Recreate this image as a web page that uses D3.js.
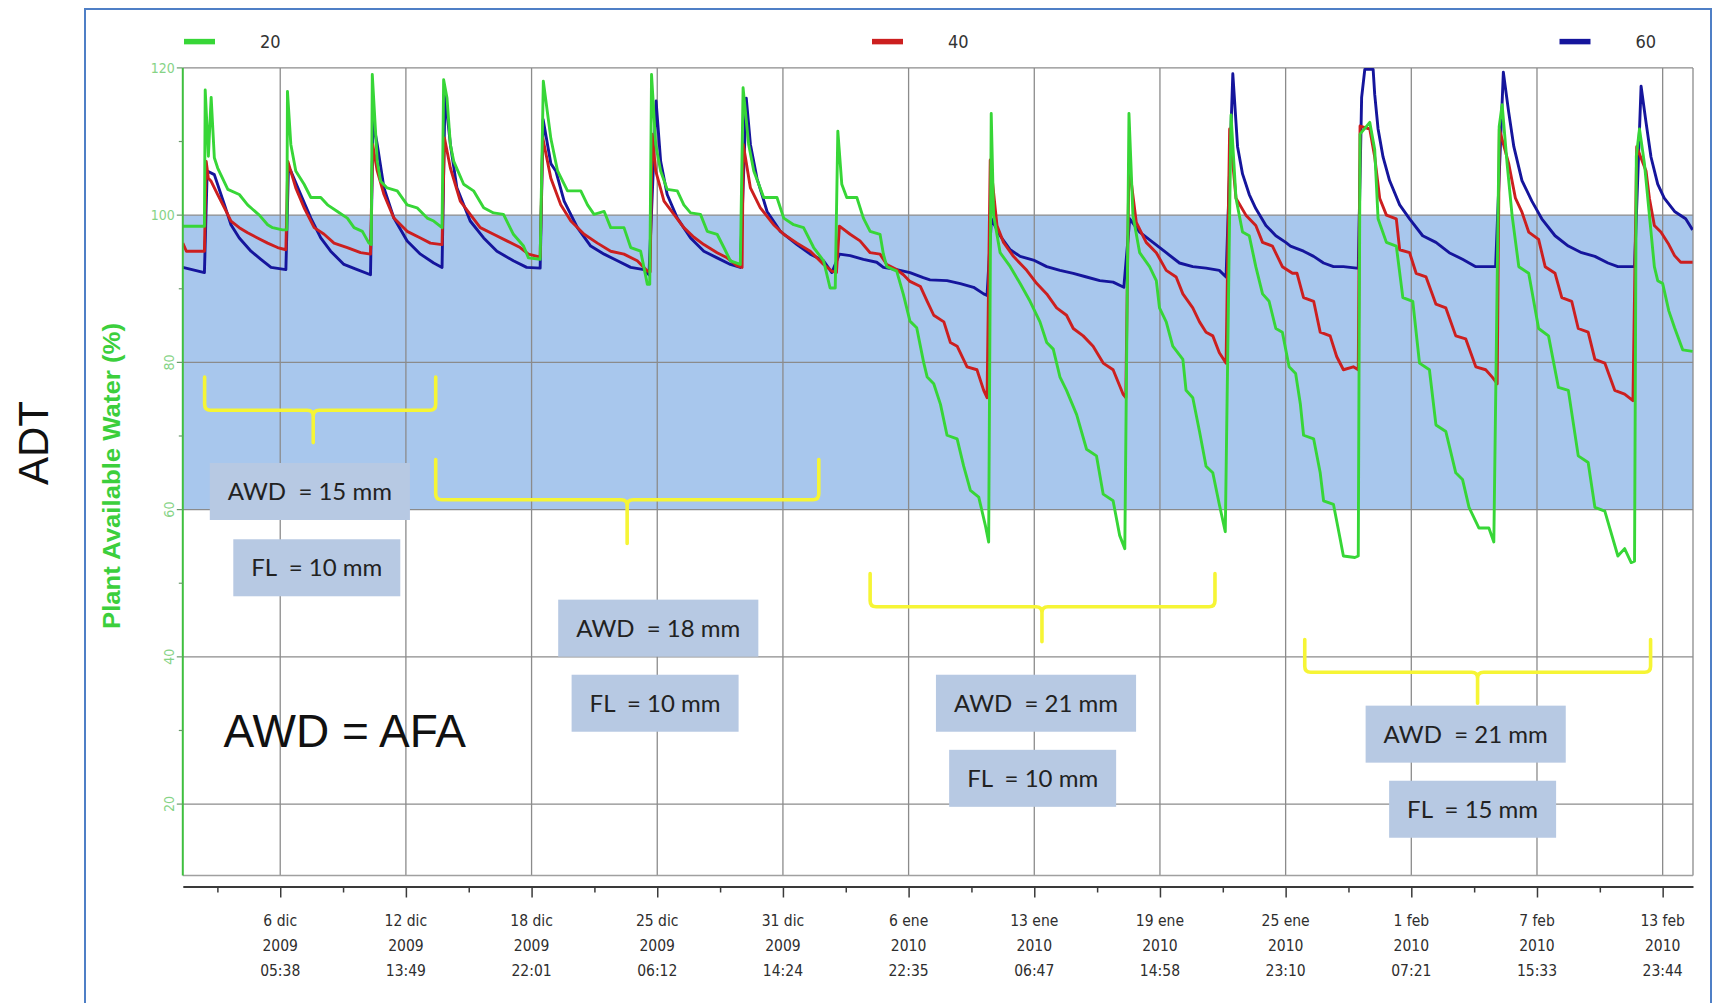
<!DOCTYPE html>
<html>
<head>
<meta charset="utf-8">
<script src="https://cdn.jsdelivr.net/npm/d3@7"></script>
<style>
  html, body { margin: 0; padding: 0; background: #fff; }
  svg { display: block; }
</style>
</head>
<body>
<svg id="chart" width="1716" height="1003"></svg>
<script>
// x values are days since 1 Dec 2009 00:00 (UTC); y = plant available water (%)
const T0 = Date.UTC(2009, 11, 1);

const seriesNames = ["20", "40", "60"];
const seriesColors = ["#37d637", "#cc1f1f", "#15159c"];

// sensor at 20 cm
const paw20 = [
  [0.32,98.5],[1.41,98.5],[1.45,117],[1.61,108],[1.75,116],[1.91,107.8],[2.08,106.4],[2.59,103.5],[3.17,102.8],[3.59,101.4],[3.84,100.8],[4.18,100],[4.6,98.7],[4.85,98.3],[5.35,98],[5.57,98],
  [5.6,116.8],[5.77,109.6],[6.02,106],[6.44,104.2],[6.78,102.4],[7.28,102.4],[7.62,101.4],[8.12,100.5],[8.62,99.6],[8.96,98.3],[9.38,97.8],[9.71,96.2],[9.83,96],
  [9.88,119.1],[10.13,107.3],[10.3,104.6],[10.63,103.7],[11.14,103.3],[11.64,101.4],[12.14,101],[12.65,99.6],[12.98,99.2],[13.4,98.3],
  [13.48,118.4],[13.65,115.9],[13.82,109.6],[13.99,107.3],[14.49,104.2],[14.99,103.3],[15.5,101],[16,100.3],[16.5,100.1],[17,97.4],[17.51,95.8],[17.76,94.2],[18.35,94],
  [18.51,118.2],[18.89,110.4],[19.23,106],[19.73,103.3],[20.4,103.3],[20.74,101.4],[21.07,100.1],[21.58,100.5],[21.91,98.3],[22.58,98.3],[22.92,95.6],[23.42,95.1],[23.76,90.6],[23.88,90.6],
  [23.97,119.1],[24.18,109.6],[24.43,106],[24.76,103.5],[25.27,103.3],[25.6,101.4],[25.94,100.3],[26.44,100.1],[26.78,97.8],[27.28,97.4],[27.62,95.6],[27.95,93.8],[28.45,93.3],
  [28.59,117.3],[28.87,109.6],[29.13,106],[29.63,102.4],[30.3,102.4],[30.64,99.6],[31.14,98.7],[31.64,98.3],[32.15,95.6],[32.65,93.8],[32.98,90.1],[33.24,90.1],
  [33.37,111.4],[33.57,104.2],[33.82,102.4],[34.33,102.4],[34.66,99.6],[35,97.8],[35.5,97.4],[35.67,94.7],[35.84,93],[36.34,92.4],[36.68,89.2],[37.01,85.6],[37.35,84.7],[37.7,80],[37.88,78],[38.21,77.1],[38.55,74.3],[38.88,70.1],[39.39,69.6],[39.72,65.9],[40.06,62.6],[40.48,61.7],[40.81,57.9],[40.98,55.6],
  [41.11,113.8],[41.23,100],[41.56,94.9],[42.07,93],[42.57,90.7],[43.07,88.3],[43.57,85.5],[43.91,82.7],[44.24,81.8],[44.58,78],[44.91,76.2],[45.42,72.9],[45.92,68.2],[46.42,67.3],[46.76,62.1],[47.26,61.2],[47.59,56.5],[47.85,54.7],
  [48.06,113.8],[48.26,100],[48.6,94.9],[49.1,93],[49.44,91.1],[49.6,87.4],[49.94,85.5],[50.27,82.2],[50.78,80.4],[50.94,76.2],[51.28,75.2],[51.62,70.6],[51.95,65.9],[52.29,65],[52.62,60.7],[52.92,57],
  [53.21,113.6],[53.46,102.3],[53.79,97.7],[54.13,97.2],[54.46,93],[54.8,89.3],[55.13,88.3],[55.47,84.6],[55.8,84.1],[56.14,79.4],[56.47,78.5],[56.71,74.3],[56.87,70.1],[57.38,69.6],[57.71,65],[57.88,61.2],[58.38,60.7],[58.71,56.1],[58.88,53.7],[59.46,53.5],[59.63,53.7],
  [59.72,111],[60.21,112.6],[60.46,108.9],[60.63,99.5],[61.05,96.3],[61.55,95.8],[61.88,88.8],[62.38,88.3],[62.72,79.9],[63.22,79],[63.55,71.5],[64.05,70.6],[64.55,65],[64.89,64.1],[65.22,60.3],[65.72,57.5],[66.22,57.5],[66.47,55.6],
  [66.74,112],[66.89,115],[67.14,107],[67.39,100],[67.73,93],[68.23,92.1],[68.73,84.6],[69.23,83.6],[69.73,76.6],[70.23,76.2],[70.73,67.3],[71.23,66.4],[71.57,60.3],[72.07,59.8],[72.73,53.7],[73.07,54.7],[73.4,52.8],[73.57,53],
  [73.66,108],[73.82,111.7],[74.07,107],[74.32,100],[74.57,93],[74.74,91.1],[74.99,90.7],[75.3,87],[75.59,84.7],[76,81.7],[76.5,81.5]
];

// sensor at 40 cm
const paw40 = [
  [0.32,96.2],[0.5,95.1],[1.41,95.1],[1.5,107.3],[1.61,105],[1.75,104.6],[2.08,102.8],[2.42,101],[2.75,99.2],[3.17,98.3],[3.59,97.6],[4.09,96.9],[4.6,96.2],[5.1,95.6],[5.52,95.3],
  [5.62,107.3],[6.02,103.7],[6.44,101],[6.95,98.3],[7.45,97.4],[7.95,96.2],[8.62,95.6],[9.29,94.9],[9.79,94.7],
  [9.9,109.6],[10.13,106],[10.47,102.8],[10.97,99.6],[11.64,97.8],[12.31,96.9],[12.81,96.2],[13.4,96],
  [13.52,110.5],[13.82,106.4],[14.32,101.9],[14.82,100.1],[15.33,98.3],[16,97.4],[16.67,96.5],[17.34,95.6],[17.76,94.7],[18.35,94.3],
  [18.48,110.5],[18.89,105],[19.39,101.4],[19.9,99.2],[20.57,97.4],[21.24,96.2],[21.91,95.1],[22.58,94.7],[23.25,93.8],[23.76,92.4],[23.9,92.3],
  [24.0,111],[24.18,106],[24.6,101.9],[25.1,100.1],[25.6,98.3],[26.11,97],[26.61,96],[27.28,94.9],[27.78,94.2],[28.29,93.1],[28.54,92.9],
  [28.6,109.6],[28.96,103.7],[29.46,101],[30.13,98.7],[30.64,97.4],[31.31,96.2],[31.98,95.1],[32.65,93.3],[33.07,92.4],[33.3,92.2],
  [33.45,98.5],[33.99,97.4],[34.49,96.5],[35,94.9],[35.5,94.7],[35.84,93.3],[36.34,92.6],[36.68,91.9],[37.01,91],[37.54,90.3],[37.88,88.3],[38.21,86.4],[38.72,85.5],[39.05,82.7],[39.39,82.2],[39.89,79.4],[40.39,79],[40.73,76.2],[40.9,75.2],
  [41.06,107.5],[41.4,98.6],[41.73,96.3],[42.23,94.4],[42.9,92.5],[43.41,90.7],[43.91,89.3],[44.41,87.4],[44.91,86.4],[45.25,84.6],[45.75,83.6],[46.25,82.2],[46.76,79.9],[47.26,79],[47.76,75.7],[47.9,75.2],
  [48.06,107],[48.43,99],[48.93,96.3],[49.44,94.9],[49.94,92.5],[50.44,91.6],[50.78,89.3],[51.28,87.4],[51.62,85.5],[51.95,84.1],[52.29,83.6],[52.62,81.3],[52.96,79.9],
  [53.14,111.7],[53.46,102.3],[53.96,100],[54.46,98.6],[54.8,96.3],[55.3,95.8],[55.8,93],[56.31,92.1],[56.54,92.1],[56.87,88.8],[57.38,88.3],[57.71,84.1],[58.21,83.6],[58.54,80.8],[58.88,79],[59.38,79.4],[59.63,79],
  [59.72,112.1],[60.21,111.7],[60.46,107.9],[60.71,102.3],[61.05,100],[61.55,99.5],[61.72,95.3],[62.22,94.9],[62.55,92.1],[63.05,91.6],[63.55,87.9],[64.05,87.4],[64.55,83.6],[65.05,83.2],[65.56,79.4],[66.06,79],[66.39,78],[66.64,77.1],
  [66.75,111.7],[67.22,107],[67.56,102.3],[67.89,100.4],[68.23,97.7],[68.73,96.7],[69.06,93],[69.56,92.1],[69.9,88.8],[70.4,88.3],[70.73,84.6],[71.23,84.1],[71.57,80.4],[72.07,79.9],[72.57,76.2],[73.07,75.7],[73.49,74.8],
  [73.68,109.3],[74.15,106],[74.32,102.3],[74.57,98.6],[74.9,97.7],[75.3,96],[75.59,94.5],[75.9,93.6],[76.5,93.6]
];

// sensor at 60 cm
const paw60 = [
  [0.32,92.9],[1.41,92.2],[1.55,106],[1.91,105.5],[2.42,101.4],[2.75,98.7],[3.17,96.9],[3.76,95.1],[4.26,94],[4.77,92.9],[5.52,92.6],
  [5.65,106.4],[5.77,106],[6.27,102.8],[6.78,99.6],[7.28,96.9],[7.78,95.1],[8.45,93.3],[9.12,92.6],[9.79,91.9],
  [9.92,112.8],[10.13,109.6],[10.47,103.7],[10.97,99.6],[11.64,96.5],[12.31,94.7],[12.98,93.5],[13.4,92.9],
  [13.55,116.4],[13.82,109.6],[14.15,103.7],[14.82,99.2],[15.5,96.9],[16.17,95.1],[17,93.8],[17.67,92.9],[18.35,92.8],
  [18.5,113],[18.89,107],[19.14,106],[19.56,101.9],[20.23,98.3],[20.9,95.8],[21.58,94.7],[22.25,93.8],[22.92,92.9],[23.59,92.6],[23.84,91.9],
  [24.2,115.5],[24.43,107.3],[24.76,102.8],[25.27,99.6],[25.94,96.9],[26.61,95.1],[27.28,94.2],[27.95,93.3],[28.45,92.9],
  [28.75,115.9],[28.96,109.6],[29.29,105],[29.8,100.5],[30.47,97.8],[31.31,96],[31.98,94.7],[32.65,93.8],[33.07,92.2],
  [33.45,94.7],[33.99,94.5],[34.66,94],[35.33,93.6],[35.67,92.9],[36.34,92.6],[37.01,92.2],[37.68,91.5],[38.02,91.2],[38.88,91.1],[39.55,90.7],[40.22,90.2],[40.73,89.3],[40.9,89.1],
  [41.12,99.5],[41.56,97.2],[42.07,95.3],[42.57,94.4],[43.24,93.9],[43.91,93],[44.58,92.5],[45.25,92.1],[45.92,91.6],[46.59,91.1],[47.26,90.9],[47.8,90.2],
  [48.1,99.5],[48.6,97.7],[49.27,96.3],[49.94,94.9],[50.61,93.5],[51.28,93],[51.95,92.8],[52.62,92.5],[52.96,91.6],
  [53.3,119.2],[53.54,109.3],[53.79,105.6],[54.13,102.8],[54.46,100.9],[54.97,98.6],[55.47,97.2],[55.97,96.3],[56.21,95.8],[56.87,95.1],[57.38,94.4],[57.88,93.5],[58.38,93],[58.88,93],[59.55,92.8],[59.63,92.8],
  [59.8,116],[59.96,119.8],[60.38,119.8],[60.46,116.4],[60.63,111.7],[60.88,107.9],[61.21,104.7],[61.72,101.4],[62.22,99.5],[62.88,97.2],[63.55,96.3],[64.22,94.9],[64.89,94],[65.56,93],[66.56,93],
  [66.95,119.4],[67.22,114],[67.48,109.3],[67.89,104.7],[68.39,101.9],[68.89,99.5],[69.56,97.2],[70.23,95.8],[70.9,94.9],[71.57,94.4],[72.23,93.5],[72.73,93],[73.57,93],
  [73.9,117.5],[74.15,112.6],[74.4,107.9],[74.74,104.2],[75.07,102.3],[75.59,100.5],[76.15,99.5],[76.5,98]
];

// x axis: labelled ticks (odd times come from the logger software)
const tickDates = ["2009-12-06T05:38Z","2009-12-12T13:49Z","2009-12-18T22:01Z","2009-12-25T06:12Z","2009-12-31T14:24Z","2010-01-06T22:35Z",
                   "2010-01-13T06:47Z","2010-01-19T14:58Z","2010-01-25T23:10Z","2010-02-01T07:21Z","2010-02-07T15:33Z","2010-02-13T23:44Z"];
const tickDay  = ["6 dic","12 dic","18 dic","25 dic","31 dic","6 ene","13 ene","19 ene","25 ene","1 feb","7 feb","13 feb"];
const tickYear = ["2009","2009","2009","2009","2009","2010","2010","2010","2010","2010","2010","2010"];
const tickTime = ["05:38","13:49","22:01","06:12","14:24","22:35","06:47","14:58","23:10","07:21","15:33","23:44"];

const yTicks = [20, 40, 60, 80, 100, 120];
const yMinorTicks = [30, 50, 70, 90, 110];
const targetBand = [60, 100];   // shaded comfort band

// irrigation periods: braces (day range, tip day, values of top/bar/tip) and their notes
const braces = [
  { from: 1.42,  to: 13.08, tip: 6.9,   top: 78,   bar: 73.5,  end: 69.1 },
  { from: 13.08, to: 32.41, tip: 22.74, top: 66.8, bar: 61.35, end: 55.4 },
  { from: 35.0,  to: 52.4,  tip: 43.67, top: 51.3, bar: 46.8,  end: 42.05 },
  { from: 56.93, to: 74.38, tip: 65.65, top: 42.35, bar: 37.9, end: 33.7 }
];
const notes = [
  { text: "AWD  = 15 mm", day: 6.73,  value: 62.46 },
  { text: "FL  = 10 mm",  day: 7.08,  value: 52.1 },
  { text: "AWD  = 18 mm", day: 24.31, value: 43.9 },
  { text: "FL  = 10 mm",  day: 24.15, value: 33.7 },
  { text: "AWD  = 21 mm", day: 43.37, value: 33.7 },
  { text: "FL  = 10 mm",  day: 43.2,  value: 23.5 },
  { text: "AWD  = 21 mm", day: 65.05, value: 29.5 },
  { text: "FL  = 15 mm",  day: 65.4,  value: 19.3 }
];

const toDate = d => new Date(T0 + d * 864e5);

const svg = d3.select("#chart");
const plot = { left: 182.8, right: 1693, top: 67.9, bottom: 875.5 };

// outer blue frame of the slide
svg.append("rect")
    .attr("x", 85).attr("y", 9).attr("width", 1626).attr("height", 1010)
    .attr("fill", "none").attr("stroke", "#4f7fc6").attr("stroke-width", 2);

const x = d3.scaleUtc()
    .domain([toDate(0.319), toDate(76.52)])
    .range([plot.left, plot.right]);
const y = d3.scaleLinear()
    .domain([10.3, 120])
    .range([plot.bottom, plot.top]);

// blue band 60..100
svg.append("rect")
    .attr("x", plot.left).attr("width", plot.right - plot.left)
    .attr("y", y(targetBand[1])).attr("height", y(targetBand[0]) - y(targetBand[1]))
    .attr("fill", "#a8c7ed");

// grid
const grid = svg.append("g").attr("stroke", "#8b8b8b").attr("stroke-width", 1.3);
grid.selectAll(".h").data(yTicks).join("line")
    .attr("x1", plot.left).attr("x2", plot.right)
    .attr("y1", d => y(d)).attr("y2", d => y(d));
const tickDateObjs = tickDates.map(s => new Date(s));
grid.selectAll(".v").data(tickDateObjs).join("line")
    .attr("x1", d => x(d)).attr("x2", d => x(d))
    .attr("y1", plot.top).attr("y2", plot.bottom);
// right and bottom edge of the plot area
svg.append("line").attr("x1", plot.right).attr("x2", plot.right)
    .attr("y1", plot.top).attr("y2", plot.bottom)
    .attr("stroke", "#8b8b8b").attr("stroke-width", 1.3);
svg.append("line").attr("x1", plot.left).attr("x2", plot.right)
    .attr("y1", plot.bottom).attr("y2", plot.bottom)
    .attr("stroke", "#a0a0a0").attr("stroke-width", 1.3);

// series lines, clipped to the plot box
svg.append("clipPath").attr("id", "clip").append("rect")
    .attr("x", plot.left).attr("y", plot.top - 1)
    .attr("width", plot.right - plot.left).attr("height", plot.bottom - plot.top + 1);

const line = d3.line()
    .x(d => x(toDate(d[0])))
    .y(d => y(d[1]));

const series = [paw20, paw40, paw60];
const drawOrder = [2, 1, 0];   // blue under red under green
const linesG = svg.append("g").attr("clip-path", "url(#clip)");
drawOrder.forEach(i => {
  linesG.append("path")
      .datum(series[i])
      .attr("d", line)
      .attr("fill", "none")
      .attr("stroke", seriesColors[i])
      .attr("stroke-width", 2.9)
      .attr("stroke-linejoin", "round");
});

// y axis (green)
svg.append("line")
    .attr("x1", plot.left).attr("x2", plot.left)
    .attr("y1", plot.top).attr("y2", plot.bottom)
    .attr("stroke", "#3fbf3f").attr("stroke-width", 2);
const yAxisG = svg.append("g").attr("class", "y-axis");
yAxisG.selectAll(".maj").data(yTicks).join("line")
    .attr("x1", plot.left - 6).attr("x2", plot.left)
    .attr("y1", d => y(d)).attr("y2", d => y(d))
    .attr("stroke", "#6a9a6a").attr("stroke-width", 1.2);
yAxisG.selectAll(".min").data(yMinorTicks).join("line")
    .attr("x1", plot.left - 4).attr("x2", plot.left)
    .attr("y1", d => y(d)).attr("y2", d => y(d))
    .attr("stroke", "#6a9a6a").attr("stroke-width", 1.2);
// the source shows 100/120 upright and the lower labels turned on their side
yAxisG.selectAll("text").data(yTicks).join("text")
    .attr("transform", d => d >= 100
        ? `translate(${plot.left - 8}, ${y(d)})`
        : `translate(${plot.left - 14}, ${y(d)}) rotate(-90)`)
    .attr("dy", d => d >= 100 ? "0.35em" : "0.35em")
    .attr("text-anchor", d => d >= 100 ? "end" : "middle")
    .attr("font-family", "DejaVu Sans Condensed, DejaVu Sans, sans-serif")
    .attr("font-size", 14)
    .attr("fill", "#86d386")
    .text(d => d);

svg.append("text")
    .attr("transform", "translate(120, 476) rotate(-90)")
    .attr("text-anchor", "middle")
    .attr("font-family", "Liberation Sans, Arial, sans-serif")
    .attr("font-weight", "bold")
    .attr("font-size", 24)
    .attr("textLength", 306)
    .attr("lengthAdjust", "spacingAndGlyphs")
    .attr("fill", "#3ccf3c")
    .text("Plant Available Water (%)");

// x axis: major ticks, minor ticks half-way between
const axisY = 886.5;
const step = tickDateObjs[1] - tickDateObjs[0];
const minorDates = [new Date(+tickDateObjs[0] - step / 2)]
    .concat(d3.pairs(tickDateObjs).map(([a, b]) => new Date((+a + +b) / 2)));

const xAxis = svg.append("g").attr("transform", `translate(0,${axisY})`)
    .call(d3.axisBottom(x).tickValues(tickDateObjs).tickSize(11).tickSizeOuter(0).tickFormat(""));
xAxis.select(".domain").attr("stroke", "#3a3a3a").attr("stroke-width", 2.2);
xAxis.selectAll(".tick line").attr("stroke", "#3a3a3a").attr("stroke-width", 1.5);

const xMinor = svg.append("g").attr("transform", `translate(0,${axisY})`)
    .call(d3.axisBottom(x).tickValues(minorDates).tickSize(6).tickSizeOuter(0).tickFormat(""));
xMinor.select(".domain").remove();
xMinor.selectAll(".tick line").attr("stroke", "#3a3a3a").attr("stroke-width", 1.5);

const xLabels = svg.append("g")
    .attr("font-family", "DejaVu Sans Condensed, DejaVu Sans, sans-serif")
    .attr("font-size", 15.5)
    .attr("fill", "#2e2e2e")
    .attr("text-anchor", "middle");
tickDateObjs.forEach((d, i) => {
  const t = xLabels.append("text").attr("x", x(d)).attr("y", 926);
  t.append("tspan").attr("x", x(d)).attr("dy", 0).text(tickDay[i]);
  t.append("tspan").attr("x", x(d)).attr("dy", 24.8).text(tickYear[i]);
  t.append("tspan").attr("x", x(d)).attr("dy", 25).text(tickTime[i]);
});

// legend across the top
const legendX = [184, 872, 1559.5];
const legend = svg.append("g");
seriesNames.forEach((name, i) => {
  legend.append("line")
      .attr("x1", legendX[i]).attr("x2", legendX[i] + 31)
      .attr("y1", 41.6).attr("y2", 41.6)
      .attr("stroke", seriesColors[i]).attr("stroke-width", 5.5);
  legend.append("text")
      .attr("x", legendX[i] + 76).attr("y", 41.6).attr("dy", "0.36em")
      .attr("font-family", "DejaVu Sans Condensed, DejaVu Sans, sans-serif")
      .attr("font-size", 18).attr("fill", "#333")
      .text(name);
});

// yellow braces marking each irrigation regime
const braceG = svg.append("g")
    .attr("fill", "none").attr("stroke", "#f6f535")
    .attr("stroke-width", 3.6).attr("stroke-linecap", "round");
braces.forEach(b => {
  const x1 = x(toDate(b.from)), x2 = x(toDate(b.to)), xc = x(toDate(b.tip));
  const yt = y(b.top), yb = y(b.bar), ye = y(b.end);
  const r = 6;
  const p = d3.path();
  p.moveTo(x1, yt); p.lineTo(x1, yb - r); p.quadraticCurveTo(x1, yb, x1 + r, yb);
  p.lineTo(xc - r, yb); p.quadraticCurveTo(xc, yb, xc, yb + r); p.lineTo(xc, ye);
  p.moveTo(xc, yb + r); p.quadraticCurveTo(xc, yb, xc + r, yb);
  p.lineTo(x2 - r, yb); p.quadraticCurveTo(x2, yb, x2, yb - r); p.lineTo(x2, yt);
  braceG.append("path").attr("d", p.toString());
});

// AWD / FL note boxes
const noteG = svg.append("g");
notes.forEach(n => {
  const cx = x(toDate(n.day)), cy = y(n.value);
  const g = noteG.append("g");
  const rect = g.append("rect").attr("fill", "#b7c9e3");
  const t = g.append("text")
      .attr("x", cx).attr("y", cy).attr("dy", "0.35em")
      .attr("text-anchor", "middle")
      .attr("font-family", "Lato, Open Sans, sans-serif")
      .attr("font-size", 24).attr("fill", "#222")
      .style("white-space", "pre")
      .text(n.text);
  const w = t.node().getComputedTextLength() + 36, h = 57;
  rect.attr("x", cx - w / 2).attr("y", cy - h / 2).attr("width", w).attr("height", h);
});

svg.append("text")
    .attr("x", x(toDate(8.49))).attr("y", y(29.9)).attr("dy", "0.35em")
    .attr("text-anchor", "middle")
    .attr("font-family", "Liberation Sans, Arial, sans-serif")
    .attr("font-size", 46).attr("fill", "#111")
    .text("AWD = AFA");

svg.append("text")
    .attr("transform", "translate(48, 443) rotate(-90)")
    .attr("text-anchor", "middle")
    .attr("font-family", "Liberation Sans, Arial, sans-serif")
    .attr("font-size", 42).attr("fill", "#111")
    .text("ADT");
</script>
</body>
</html>
